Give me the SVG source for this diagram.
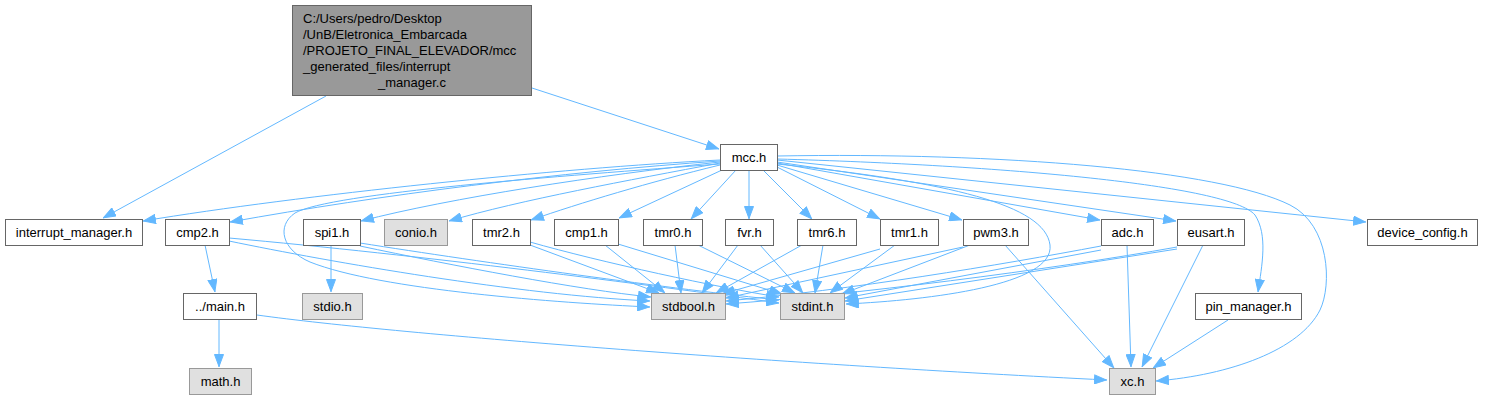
<svg xmlns="http://www.w3.org/2000/svg" width="1494" height="400" viewBox="0 0 1494 400">
<defs>
<marker id="ah" viewBox="0 0 13 10" refX="13" refY="5" markerWidth="13" markerHeight="10" markerUnits="userSpaceOnUse" orient="auto">
<path d="M0.5,0.5 L12.5,5 L0.5,9.5 z" fill="#63B8FF" stroke="#63B8FF" stroke-width="1"/>
</marker>
<style>
.e{fill:none;stroke:#63B8FF;stroke-width:1;marker-end:url(#ah)}
.n{fill:#FFFFFF;stroke:#666666;stroke-width:1}
.g{fill:#E0E0E0;stroke:#999999;stroke-width:1}
.r{fill:#999999;stroke:#666666;stroke-width:1}
text{font-family:"Liberation Sans",Arial,sans-serif;font-size:13px;fill:#000000}
.c{text-anchor:middle}
</style>
</defs>
<rect width="1494" height="400" fill="#FFFFFF"/>
<g id="edges">
<path class="e" d="M326,96 L103,218"/>
<path class="e" d="M532,88 L719,149"/>
<path class="e" d="M720,160 C 560,168 300,195 143,221"/>
<path class="e" d="M720,161 C 560,172 380,195 230,222"/>
<path class="e" d="M720,162 C 600,175 450,198 361,221"/>
<path class="e" d="M720,163 C 630,180 520,200 449,221"/>
<path class="e" d="M720,165 C 650,182 580,203 531,220"/>
<path class="e" d="M722,170 L619,218"/>
<path class="e" d="M736,170 L691,219"/>
<path class="e" d="M749,170 L749,219"/>
<path class="e" d="M763,170 L812,219"/>
<path class="e" d="M777,167 L880,219"/>
<path class="e" d="M777,165 L962,220"/>
<path class="e" d="M777,163 L1100,220"/>
<path class="e" d="M777,162 L1176,221"/>
<path class="e" d="M777,160 L1366,222"/>
<path class="e" d="M777,159 C 1000,165 1230,185 1255,215 C 1268,235 1262,265 1258,292"/>
<path class="e" d="M777,156 C 1000,152 1220,170 1290,205 C 1330,225 1332,285 1320,310 C 1300,350 1230,375 1156,381"/>
<path class="e" d="M777,164 C 950,182 1045,205 1050,245 C 1055,285 930,300 846,304"/>
<path class="e" d="M720,164 C 560,176 330,193 295,213 C 276,226 282,250 310,262 C 380,290 560,303 650,307"/>
<path class="e" d="M205,245 L215,292"/>
<path class="e" d="M229,241 C 330,262 520,295 650,301"/>
<path class="e" d="M229,238 C 420,255 650,285 779,303"/>
<path class="e" d="M331,245 L331,292"/>
<path class="e" d="M360,246 C 450,265 580,290 651,297"/>
<path class="e" d="M360,243 C 480,262 680,290 779,300"/>
<path class="e" d="M530,245 L659,293"/>
<path class="e" d="M530,242 C 600,262 720,288 779,297"/>
<path class="e" d="M605,245 L665,293"/>
<path class="e" d="M618,244 L782,294"/>
<path class="e" d="M675,245 L681,293"/>
<path class="e" d="M698,245 L795,293"/>
<path class="e" d="M738,245 L702,293"/>
<path class="e" d="M760,245 L803,293"/>
<path class="e" d="M802,245 L716,293"/>
<path class="e" d="M823,245 L815,293"/>
<path class="e" d="M880,249 L722,294"/>
<path class="e" d="M895,245 L830,293"/>
<path class="e" d="M963,247 L726,298"/>
<path class="e" d="M970,245 L842,294"/>
<path class="e" d="M1005,245 L1114,368"/>
<path class="e" d="M1101,246 C 1000,265 850,290 726,301"/>
<path class="e" d="M1101,250 L845,298"/>
<path class="e" d="M1127,245 L1131,367"/>
<path class="e" d="M1177,247 C 1050,270 850,295 726,304"/>
<path class="e" d="M1177,249 L845,301"/>
<path class="e" d="M1203,245 L1142,367"/>
<path class="e" d="M1228,320 L1153,368"/>
<path class="e" d="M219,320 L219,367"/>
<path class="e" d="M257,315 C 400,335 800,365 1107,380"/>
</g>
<g id="node_root"><rect class="r" x="292.5" y="5.5" width="239" height="90"/>
<text x="303" y="22.5">C:/Users/pedro/Desktop</text>
<text x="303" y="38.5">/UnB/Eletronica_Embarcada</text>
<text x="303" y="54.5">/PROJETO_FINAL_ELEVADOR/mcc</text>
<text x="303" y="70.5">_generated_files/interrupt</text>
<text class="c" x="412" y="86.5">_manager.c</text></g>
<g id="node_mcc"><rect class="n" x="720.5" y="144.5" width="57" height="26"/><text class="c" x="749" y="162">mcc.h</text></g>
<g id="node_interrupt_manager"><rect class="n" x="5.5" y="219.5" width="137" height="26"/><text class="c" x="74" y="237">interrupt_manager.h</text></g>
<g id="node_cmp2"><rect class="n" x="165.5" y="219.5" width="64" height="26"/><text class="c" x="197.5" y="237">cmp2.h</text></g>
<g id="node_spi1"><rect class="n" x="303.5" y="219.5" width="57" height="26"/><text class="c" x="332" y="237">spi1.h</text></g>
<g id="node_conio"><rect class="g" x="384.5" y="219.5" width="63" height="26"/><text class="c" x="416" y="237">conio.h</text></g>
<g id="node_tmr2"><rect class="n" x="472.5" y="219.5" width="58" height="26"/><text class="c" x="501.5" y="237">tmr2.h</text></g>
<g id="node_cmp1"><rect class="n" x="554.5" y="219.5" width="64" height="26"/><text class="c" x="586.5" y="237">cmp1.h</text></g>
<g id="node_tmr0"><rect class="n" x="643.5" y="219.5" width="59" height="26"/><text class="c" x="673" y="237">tmr0.h</text></g>
<g id="node_fvr"><rect class="n" x="725.5" y="219.5" width="48" height="26"/><text class="c" x="749.5" y="237">fvr.h</text></g>
<g id="node_tmr6"><rect class="n" x="797.5" y="219.5" width="59" height="26"/><text class="c" x="827" y="237">tmr6.h</text></g>
<g id="node_tmr1"><rect class="n" x="880.5" y="219.5" width="58" height="26"/><text class="c" x="909.5" y="237">tmr1.h</text></g>
<g id="node_pwm3"><rect class="n" x="963.5" y="219.5" width="65" height="26"/><text class="c" x="996" y="237">pwm3.h</text></g>
<g id="node_adc"><rect class="n" x="1101.5" y="219.5" width="52" height="26"/><text class="c" x="1127.5" y="237">adc.h</text></g>
<g id="node_eusart"><rect class="n" x="1177.5" y="219.5" width="67" height="26"/><text class="c" x="1211" y="237">eusart.h</text></g>
<g id="node_device_config"><rect class="n" x="1367.5" y="219.5" width="110" height="26"/><text class="c" x="1422.5" y="237">device_config.h</text></g>
<g id="node_main"><rect class="n" x="183.5" y="293.5" width="73" height="26"/><text class="c" x="220" y="311">../main.h</text></g>
<g id="node_stdio"><rect class="g" x="302.5" y="293.5" width="60" height="26"/><text class="c" x="332.5" y="311">stdio.h</text></g>
<g id="node_stdbool"><rect class="g" x="651.5" y="293.5" width="74" height="26"/><text class="c" x="688.5" y="311">stdbool.h</text></g>
<g id="node_stdint"><rect class="g" x="780.5" y="293.5" width="64" height="26"/><text class="c" x="812.5" y="311">stdint.h</text></g>
<g id="node_pin_manager"><rect class="n" x="1195.5" y="293.5" width="106" height="26"/><text class="c" x="1248.5" y="311">pin_manager.h</text></g>
<g id="node_math"><rect class="g" x="189.5" y="368.5" width="62" height="26"/><text class="c" x="220.5" y="386">math.h</text></g>
<g id="node_xc"><rect class="g" x="1109.5" y="368.5" width="46" height="26"/><text class="c" x="1132.5" y="386">xc.h</text></g>
</svg>
